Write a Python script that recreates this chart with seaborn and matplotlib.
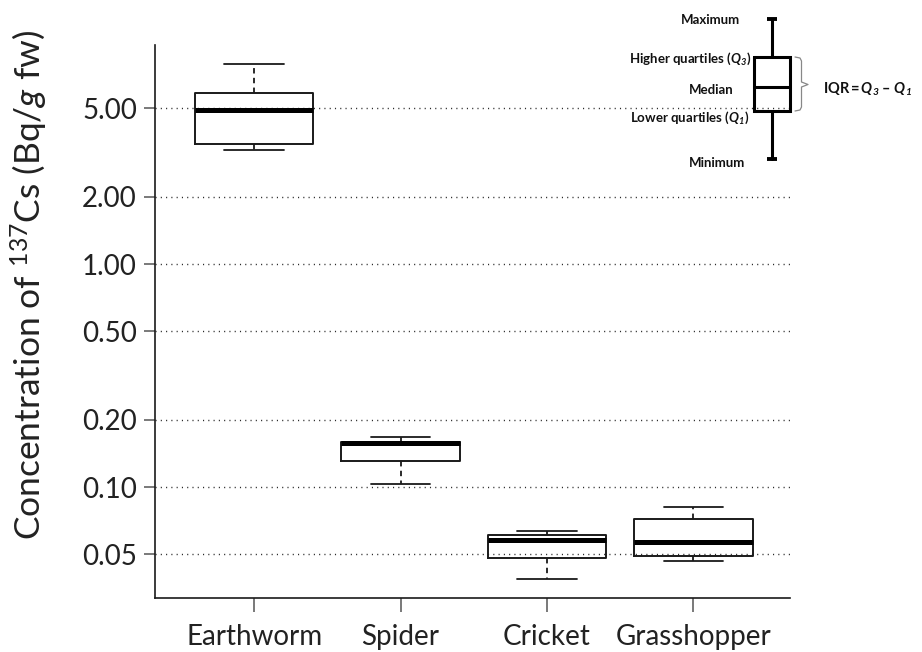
import numpy as np
import pandas as pd
import matplotlib
matplotlib.use("Agg")
import matplotlib.pyplot as plt
import seaborn as sns

# 137Cs concentration per taxon (Bq/g fresh weight): five-number summaries
categories = ["Earthworm", "Spider", "Cricket", "Grasshopper"]
minimum = [3.25, 0.103, 0.0388, 0.0467]
q1 = [3.44, 0.131, 0.0482, 0.0491]
median = [4.90, 0.157, 0.0578, 0.0569]
q3 = [5.83, 0.160, 0.0607, 0.0719]
maximum = [7.88, 0.168, 0.0635, 0.0811]

yticks = [0.05, 0.10, 0.20, 0.50, 1.00, 2.00, 5.00]
ytick_labels = ["0.05", "0.10", "0.20", "0.50", "1.00", "2.00", "5.00"]

rows = []
for i, cat in enumerate(categories):
    for v in (minimum[i], q1[i], median[i], q3[i], maximum[i]):
        rows.append({"taxon": cat, "conc": v})
df = pd.DataFrame(rows)

sns.set_theme(style="white")
plt.rcParams["font.family"] = ["Lato", "DejaVu Sans"]
plt.rcParams["mathtext.fontset"] = "custom"
plt.rcParams["mathtext.rm"] = "Lato"
plt.rcParams["mathtext.it"] = "Lato:italic"
plt.rcParams["mathtext.bf"] = "Lato:italic:bold"

W, H = 922, 652
fig = plt.figure(figsize=(W / 100, H / 100), dpi=100)
ax = fig.add_axes([155 / W, 1 - 598 / H, (790 - 155) / W, (598 - 45) / H])

ink = "#1a1a1a"
sns.boxplot(
    data=df, x="taxon", y="conc", order=categories, ax=ax,
    fill=False, color=ink, width=0.81, whis=(0, 100), showfliers=False,
    linewidth=1.4,
    medianprops=dict(linewidth=3.6, color="black"),
    whiskerprops=dict(linewidth=1.3, linestyle=(0, (3, 2.4))),
    capprops=dict(linewidth=1.3),
    zorder=3,
)

ax.set_yscale("log")
ax.set_ylim(0.0318, 9.6)
ax.set_xlim(-0.677, 3.66)
ax.set_yticks(yticks)
ax.set_yticklabels(ytick_labels)
ax.yaxis.set_minor_locator(matplotlib.ticker.NullLocator())

for y in yticks:
    ax.axhline(y, color="#2a2a2a", linewidth=1.0, linestyle=(0, (0.8, 3.0)), zorder=1)

for side in ("top", "right"):
    ax.spines[side].set_visible(False)
for side in ("left", "bottom"):
    ax.spines[side].set_color(ink)
    ax.spines[side].set_linewidth(1.2)

ax.tick_params(axis="y", which="major", direction="out", length=8, width=1.1,
               color="#555555", labelsize=20, pad=5, left=True, labelcolor="#222222")
ax.tick_params(axis="x", which="major", direction="out", length=10, width=1.1,
               color="#555555", labelsize=20, pad=9, bottom=True, labelcolor="#222222")
ax.set_xlabel("")
ax.set_ylabel(r"Concentration of $^{137}$Cs (Bq/$\mathit{g}$ fw)", fontsize=25.5,
              color="#222222")
ax.yaxis.set_label_coords(-0.165, 0.566)

# Schematic key explaining the box elements (drawn in pixel space)
key = fig.add_axes([0, 0, 1, 1], zorder=5)
key.set_xlim(0, W)
key.set_ylim(H, 0)
key.axis("off")
key.patch.set_alpha(0)

bx0, bx1 = 754, 790
ytop, ymed, ybot = 56.7, 87, 111
xw = 772
lw_key = 2.2
key.plot([bx0, bx1, bx1, bx0, bx0], [ytop, ytop, ybot, ybot, ytop], color="black", lw=lw_key,
         solid_joinstyle="miter")
key.plot([bx0, bx1], [ymed, ymed], color="black", lw=lw_key)
key.plot([xw, xw], [18.5, ytop], color="black", lw=lw_key)
key.plot([xw, xw], [ybot, 159], color="black", lw=lw_key)
key.plot([766.5, 777], [18.5, 18.5], color="black", lw=lw_key + 0.6, solid_capstyle="butt")
key.plot([766.5, 777], [159, 159], color="black", lw=lw_key + 0.6, solid_capstyle="butt")
key.plot([795, 800, 801.5, 801.5, 808, 801.5, 801.5, 800, 795],
         [57, 58, 61, 82, 84.5, 87, 107, 110, 111], color="#888888", lw=0.9)

kfont = dict(fontweight="bold", fontsize=9.5, color="#111111", va="center")
key.text(710, 20.5, "Maximum", ha="center", **kfont)
key.text(751, 59, r"Higher quartiles ($\mathbf{Q}_\mathbf{3}$)", ha="right", **kfont)
key.text(711, 90, "Median", ha="center", **kfont)
key.text(749, 118, r"Lower quartiles ($\mathbf{Q}_\mathbf{1}$)", ha="right", **kfont)
key.text(717, 163, "Minimum", ha="center", **kfont)
key.text(823, 89, r"IQR$\,$=$\,\mathbf{Q}_\mathbf{3}$ – $\mathbf{Q}_\mathbf{1}$", ha="left",
         **{**kfont, "fontsize": 10.5})

fig.savefig("out.png", dpi=100)
